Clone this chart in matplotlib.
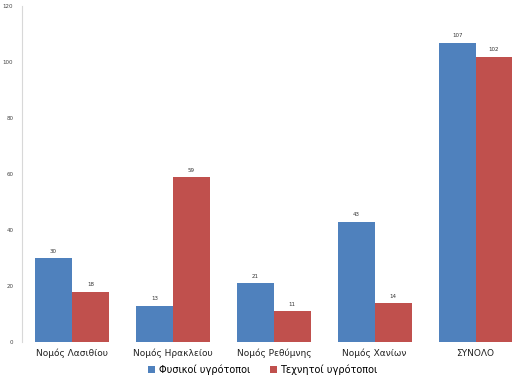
import matplotlib
matplotlib.use("Agg")
import matplotlib.pyplot as plt
import numpy as np

# data
categories = ["Νομός Λασιθίου", "Νομός Ηρακλείου", "Νομός Ρεθύμνης", "Νομός Χανίων", "ΣΥΝΟΛΟ"]
natural = [30, 13, 21, 43, 107]
artificial = [18, 59, 11, 14, 102]
series_names = ["Φυσικοί υγρότοποι", "Τεχνητοί υγρότοποι"]
yticks = [0, 20, 40, 60, 80, 100, 120]

blue = "#4F81BD"
red = "#C0504D"

fig = plt.figure(figsize=(5.26, 3.83), dpi=100)
ax = fig.add_axes([0.041, 0.107, 0.959, 0.877])

x = np.arange(len(categories))
w = 0.366
b1 = ax.bar(x - w/2, natural, w, color=blue, label=series_names[0])
b2 = ax.bar(x + w/2, artificial, w, color=red, label=series_names[1])

for bars, vals in [(b1, natural), (b2, artificial)]:
    for rect, v in zip(bars, vals):
        ax.text(rect.get_x() + rect.get_width()/2, v + 1.5, str(v),
                ha="center", va="bottom", fontsize=4, color="#333333")

ax.set_xlim(-0.5, len(categories) - 0.5)
ax.set_ylim(0, 120)
ax.set_yticks(yticks)
ax.set_yticklabels([str(t) for t in yticks], fontsize=4, color="#444444")
ax.set_xticks(x)
ax.set_xticklabels(categories, fontsize=6.5, color="#222222")
ax.tick_params(axis="both", length=0, pad=5)
ax.tick_params(axis="y", pad=6)

for s in ["top", "right", "bottom"]:
    ax.spines[s].set_visible(False)
ax.spines["left"].set_color("#d8d8d8")
ax.spines["left"].set_linewidth(0.8)

fig.legend(handles=[b1, b2], labels=series_names, loc="center",
           bbox_to_anchor=(0.5, 0.034), ncol=2, frameon=False,
           fontsize=7, handlelength=0.7, handleheight=0.7,
           columnspacing=2.0, handletextpad=0.4)

fig.savefig("out.png", dpi=100)
